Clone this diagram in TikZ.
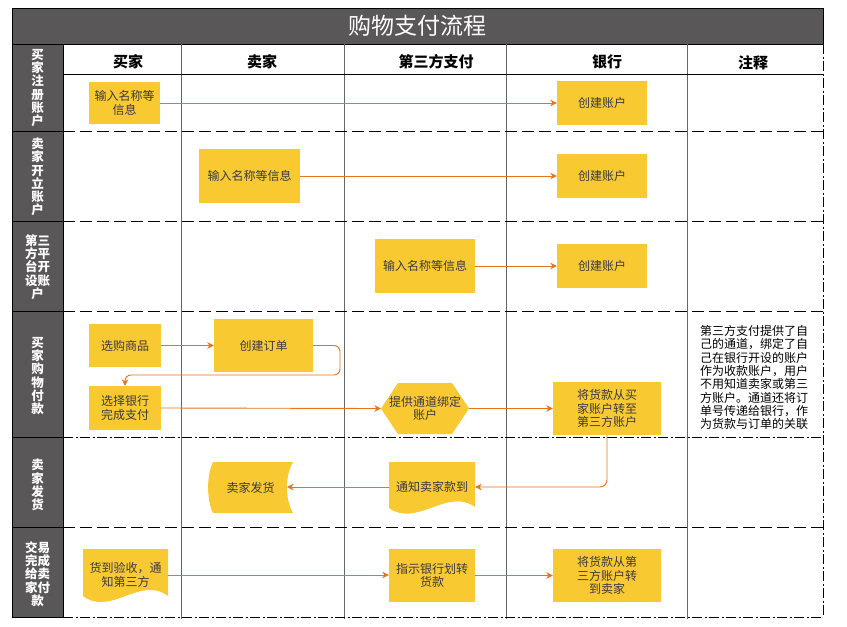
\documentclass[tikz,border=0pt]{standalone}
\usepackage{fontspec}
\newfontfamily\cjk{Noto Sans CJK SC}
\usetikzlibrary{arrows.meta,calc}
\definecolor{titlegray}{HTML}{595757}
\definecolor{boxy}{HTML}{F8C931}
\definecolor{arr}{HTML}{E8731C}
\definecolor{txt}{HTML}{3A3A44}
\definecolor{colline}{HTML}{666666}
\begin{document}
\begin{tikzpicture}[x=1pt,y=-1pt,
 box/.style={fill=boxy, inner sep=0pt, font=\cjk\fontsize{12}{13.2}\selectfont, text=txt, align=center},
 ghost/.style={inner sep=0pt, font=\cjk\fontsize{12}{13.2}\selectfont, text=txt, align=center},
 flow/.style={draw=arr, line width=0.9pt, -{Stealth[length=6.5pt,width=6.5pt]}},
 lane/.style={font=\cjk\bfseries\fontsize{12.5}{13.3}\selectfont, text=white, align=center, inner sep=0pt},
 head/.style={font=\cjk\bfseries\fontsize{15}{16}\selectfont, inner sep=0pt},
 sep/.style={line width=0.9pt, dash pattern=on 12pt off 5pt},
 sepdot/.style={line width=0.9pt, dash pattern=on 10pt off 2.5pt on 2pt off 2.5pt},
 colsep/.style={draw=colline, line width=0.9pt},
]
\useasboundingbox (0,0) rectangle (847,627);
\fill[white] (0,0) rectangle (847,627);
% title bar
\fill[titlegray] (12,8) rectangle (823,44);
\draw[line width=1pt] (12,8) rectangle (823,44);
\node[font=\cjk\fontsize{23}{26}\selectfont, text=white, inner sep=0pt] (title) at (417,26) {购物支付流程};
% lane label column
\fill[titlegray] (12,44) rectangle (63,617);
\draw[line width=1pt] (12,44) rectangle (63,617);
\foreach \yy in {131,221,311,437,527} \draw[line width=1pt] (12,\yy) -- (63,\yy);
% column lines
\foreach \xx in {181,344,506,687} \draw[colsep] (\xx,44) -- (\xx,619);
% header bottom
\draw[line width=1pt] (63,74) -- (823,74);
% row separators
\draw[sep] (63,131) -- (823,131);
\draw[sep] (63,221) -- (823,221);
\draw[sep] (63,311) -- (823,311);
\draw[sepdot] (63,437) -- (823,437);
\draw[sep] (63,527) -- (823,527);
\draw[sepdot] (63,617) -- (823,617);
\draw[sepdot] (823,44) -- (823,617);
% headers
\node[head] (h1) at (128,62) {买家};
\node[head] (h2) at (262,62) {卖家};
\node[head] (h3) at (436,62) {第三方支付};
\node[head] (h4) at (607,62) {银行};
\node[head] (h5) at (753,63) {注释};
% lane labels
\node[lane] (l1) at (37.5,88) {买\\家\\注\\册\\账\\户};
\node[lane] (l2) at (37.5,177) {卖\\家\\开\\立\\账\\户};
\node[lane] (l3) at (37.5,267) {第三\\方平\\台开\\设账\\户};
\node[lane] (l4) at (37.5,376) {买\\家\\购\\物\\付\\款};
\node[lane] (l5) at (37.5,485) {卖\\家\\发\\货};
\node[lane] (l6) at (37.5,574) {交易\\完成\\给卖\\家付\\款};
% special shapes
\fill[boxy] (381,408.5) -- (398,383) -- (452,383) -- (469,408.5) -- (452,434) -- (398,434) -- cycle;
\fill[boxy] (213,462) -- (293,462) .. controls (285,475) and (285,500) .. (293,513) -- (213,513) .. controls (206.5,500) and (206.5,475) .. (213,462) -- cycle;
\fill[boxy] (389,462) -- (475,462) -- (475,507) .. controls (447,487) and (417,528) .. (389,508) -- cycle;
\fill[boxy] (83,549) -- (168,549) -- (168,596) .. controls (140,575) and (111,617) .. (83,596) -- cycle;
% nodes
\node[box, minimum width=71pt, minimum height=42pt] (n1) at (124.5,103) {输入名称等\\信息};
\node[box, minimum width=90pt, minimum height=44pt] (n2) at (602,103) {创建账户};
\node[box, minimum width=101pt, minimum height=54pt] (n3) at (249.5,176) {输入名称等信息};
\node[box, minimum width=90pt, minimum height=44pt] (n4) at (602,176) {创建账户};
\node[box, minimum width=100pt, minimum height=54pt] (n5) at (425,266) {输入名称等信息};
\node[box, minimum width=90pt, minimum height=44pt] (n6) at (602,266) {创建账户};
\node[box, minimum width=72pt, minimum height=43pt] (n7) at (125,345.5) {选购商品};
\node[box, minimum width=99pt, minimum height=53pt] (n8) at (263.5,345.5) {创建订单};
\node[box, minimum width=72pt, minimum height=44pt] (n9) at (125,408) {选择银行\\完成支付};
\node[ghost, minimum width=88pt, minimum height=51pt] (n10) at (425,408.5) {提供通道绑定\\账户};
\node[box, minimum width=108pt, minimum height=53pt] (n11) at (607,408.5) {将货款从买\\家账户转至\\第三方账户};
\node[ghost, minimum width=85pt, minimum height=51pt] (n12) at (250.5,487.5) {卖家发货};
\coordinate (n12r) at (287,487);
\node[ghost, minimum width=86pt, minimum height=50pt] (n13) at (432,487) {通知卖家款到};
\node[ghost, minimum width=85pt, minimum height=52pt] (n14) at (125.5,575) {货到验收，通\\知第三方};
\node[box, minimum width=86pt, minimum height=53pt] (n15) at (432,575.5) {指示银行划转\\货款};
\node[box, minimum width=108pt, minimum height=53pt] (n16) at (607,575.5) {将货款从第\\三方账户转\\到卖家};
% notes
\node[font=\cjk\fontsize{12}{13.3}\selectfont, align=left, inner sep=0pt] (note) at (754,377.5)
 {第三方支付提供了自\\己的通道，绑定了自\\己在银行开设的账户\\作为收款账户，用户\\不用知道卖家或第三\\方账户。通道还将订\\单号传递给银行，作\\为货款与订单的关联};
% connectors
\coordinate (c1) at (340,375);
\draw[flow] (n1.east) -- (n2.west);
\draw[flow] (n3.east) -- (n4.west);
\draw[flow] (n5.east) -- (n6.west);
\draw[flow] (n7.east) -- (n8.west);
\draw[flow, rounded corners=6pt] (n8.east) -| (c1) -| (n9.north);
\draw[flow] (n9.east) -- (n10.west);
\draw[flow] (n10.east) -- (n11.west);
\draw[flow, rounded corners=7pt] (n11.south) |- (n13.east);
\draw[flow] (n13.west) -- (n12r);
\draw[flow] (n14.east) -- (n14.east -| n15.west);
\draw[flow] (n15.east) -- (n16.west);
\end{tikzpicture}
\end{document}
